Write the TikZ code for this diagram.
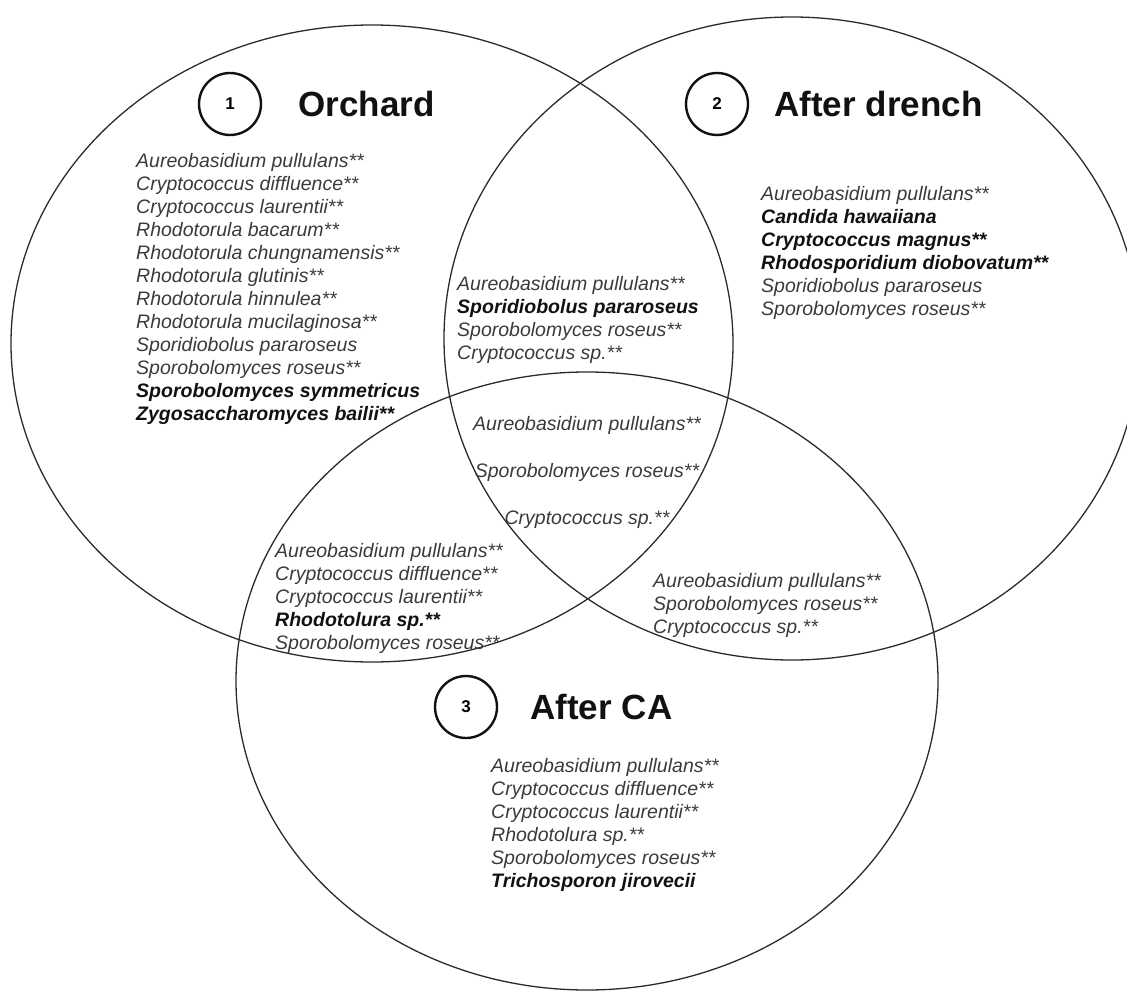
\documentclass[tikz,border=0pt]{standalone}
\usepackage{fontspec}
\setmainfont{Liberation Sans}
\usetikzlibrary{shapes.geometric, positioning}
\definecolor{ringline}{HTML}{2B2B2B}
\definecolor{spec}{HTML}{3A3A3A}
\definecolor{ink}{HTML}{111111}
\newcommand{\key}[1]{{\color{ink}\bfseries #1}}

\begin{document}
\begin{tikzpicture}[x=1pt, y=-1pt,
  setring/.style={ellipse, draw=ringline, line width=1.3pt, inner sep=0pt},
  badge/.style={circle, draw=ink, line width=2.4pt, minimum size=62pt, inner sep=0pt,
                font=\bfseries\fontsize{17}{17}\selectfont},
  heading/.style={inner sep=0pt, text=ink, font=\bfseries\fontsize{35}{35}\selectfont},
  species/.style={align=left, inner sep=0pt, anchor=north west, text=spec,
                  font=\itshape\fontsize{19.5}{23}\selectfont},
]
  \useasboundingbox (0,0) rectangle (1127,992);
  \node[setring, minimum width=722pt, minimum height=637pt] (orchard) at (372,343.5) {};
  \node[setring, minimum width=696pt, minimum height=643pt] (drench) at (792,338.5) {};
  \node[setring, minimum width=702pt, minimum height=618pt] (storage) at (587,681) {};

  \node[badge] (one) at (230,104) {1};
  \node[heading, right=36pt of one] (orchardtitle) {Orchard};
  \node[badge] (two) at (717,104) {2};
  \node[heading, right=25pt of two] (drenchtitle) {After drench};
  \node[badge] (three) at (466,707) {3};
  \node[heading, right=32pt of three] (storagetitle) {After CA};

  \node[species] (orchardlist) at (136,153) {Aureobasidium pullulans**\\
    Cryptococcus diffluence**\\ Cryptococcus laurentii**\\ Rhodotorula bacarum**\\
    Rhodotorula chungnamensis**\\ Rhodotorula glutinis**\\ Rhodotorula hinnulea**\\
    Rhodotorula mucilaginosa**\\ Sporidiobolus pararoseus\\ Sporobolomyces roseus**\\
    \key{Sporobolomyces symmetricus}\\ \key{Zygosaccharomyces bailii**}};
  \node[species] (drenchlist) at (761,186) {Aureobasidium pullulans**\\
    \key{Candida hawaiiana}\\ \key{Cryptococcus magnus**}\\
    \key{Rhodosporidium diobovatum**}\\ Sporidiobolus pararoseus\\ Sporobolomyces roseus**};
  \node[species] (storagelist) at (491,758) {Aureobasidium pullulans**\\
    Cryptococcus diffluence**\\ Cryptococcus laurentii**\\ Rhodotolura sp.**\\
    Sporobolomyces roseus**\\ \key{Trichosporon jirovecii}};

  \node[species] (orchdrench) at (457,276) {Aureobasidium pullulans**\\
    \key{Sporidiobolus pararoseus}\\ Sporobolomyces roseus**\\ Cryptococcus sp.**};
  \node[species] (orchstorage) at (275,543) {Aureobasidium pullulans**\\
    Cryptococcus diffluence**\\ Cryptococcus laurentii**\\ \key{Rhodotolura sp.**}\\
    Sporobolomyces roseus**};
  \node[species] (drenchstorage) at (653,573) {Aureobasidium pullulans**\\
    Sporobolomyces roseus**\\ Cryptococcus sp.**};
  \node[species, anchor=north, align=center, font=\itshape\fontsize{19.5}{47}\selectfont]
    (allthree) at (587,416) {Aureobasidium pullulans**\\ Sporobolomyces roseus**\\ Cryptococcus sp.**};
\end{tikzpicture}
\end{document}
